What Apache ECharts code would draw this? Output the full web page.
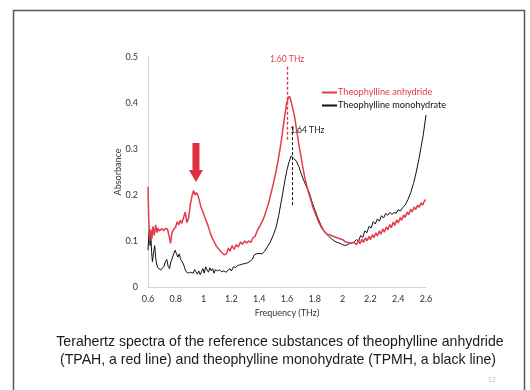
<!DOCTYPE html>
<html><head><meta charset="utf-8">
<script src="https://cdn.jsdelivr.net/npm/echarts@6/dist/echarts.min.js"></script>
<style>html,body{margin:0;padding:0;background:#fff}#c{width:530px;height:390px}</style>
</head><body><div id="c"></div>
<script>
const xTicks = ['0.6','0.8','1','1.2','1.4','1.6','1.8','2','2.2','2.4','2.6'];
const yTicks = ['0','0.1','0.2','0.3','0.4','0.5'];
const seriesNames = ['Theophylline anhydride','Theophylline monohydrate'];
const anhydrideX = [0.600,0.605,0.612,0.620,0.628,0.636,0.645,0.655,0.664,0.672,0.680,0.690,0.700,0.712,0.725,0.740,0.752,0.762,0.772,0.785,0.798,0.810,0.820,0.832,0.842,0.855,0.868,0.880,0.892,0.905,0.918,0.928,0.938,0.948,0.958,0.968,0.980,0.995,1.010,1.030,1.050,1.070,1.090,1.110,1.130,1.150,1.165,1.178,1.190,1.205,1.220,1.235,1.250,1.265,1.280,1.295,1.310,1.325,1.340,1.355,1.370,1.390,1.410,1.430,1.450,1.470,1.490,1.510,1.530,1.550,1.565,1.580,1.595,1.608,1.618,1.628,1.640,1.655,1.670,1.685,1.700,1.715,1.730,1.750,1.770,1.790,1.810,1.830,1.850,1.870,1.890,1.920,1.950,1.980,2.000,2.020,2.040,2.060,2.080,2.100,2.115,2.125,2.140,2.150,2.165,2.175,2.190,2.200,2.215,2.225,2.240,2.250,2.265,2.275,2.290,2.300,2.315,2.325,2.340,2.350,2.365,2.375,2.390,2.400,2.415,2.425,2.440,2.450,2.465,2.475,2.490,2.500,2.515,2.525,2.540,2.550,2.565,2.575,2.590,2.600];
const anhydrideY = [0.218,0.150,0.100,0.125,0.105,0.132,0.112,0.135,0.118,0.128,0.122,0.125,0.127,0.122,0.127,0.126,0.110,0.095,0.118,0.125,0.130,0.142,0.135,0.145,0.138,0.150,0.163,0.140,0.150,0.180,0.200,0.210,0.200,0.205,0.200,0.190,0.175,0.163,0.150,0.135,0.115,0.102,0.090,0.082,0.075,0.070,0.072,0.085,0.078,0.090,0.082,0.092,0.087,0.098,0.093,0.100,0.096,0.100,0.097,0.107,0.110,0.125,0.135,0.148,0.165,0.185,0.210,0.235,0.265,0.300,0.330,0.365,0.395,0.410,0.415,0.405,0.390,0.370,0.340,0.310,0.285,0.258,0.235,0.210,0.190,0.170,0.155,0.140,0.128,0.120,0.115,0.112,0.108,0.105,0.103,0.098,0.097,0.095,0.097,0.092,0.102,0.094,0.104,0.097,0.107,0.100,0.110,0.103,0.114,0.107,0.118,0.111,0.122,0.115,0.126,0.119,0.131,0.124,0.136,0.129,0.141,0.134,0.146,0.139,0.151,0.145,0.157,0.151,0.163,0.157,0.169,0.163,0.174,0.168,0.178,0.173,0.183,0.178,0.188,0.190];
const monohydrateX = [0.600,0.605,0.610,0.615,0.620,0.626,0.632,0.640,0.648,0.655,0.662,0.670,0.680,0.692,0.705,0.715,0.725,0.735,0.745,0.755,0.765,0.775,0.785,0.795,0.805,0.815,0.825,0.835,0.845,0.855,0.865,0.875,0.890,0.905,0.915,0.925,0.935,0.945,0.955,0.965,0.975,0.985,0.995,1.005,1.015,1.025,1.035,1.045,1.055,1.065,1.075,1.085,1.100,1.115,1.130,1.145,1.160,1.175,1.190,1.200,1.215,1.230,1.245,1.260,1.280,1.300,1.320,1.335,1.350,1.365,1.380,1.400,1.420,1.440,1.460,1.480,1.500,1.520,1.540,1.555,1.570,1.585,1.600,1.615,1.630,1.640,1.655,1.670,1.685,1.700,1.720,1.740,1.760,1.780,1.800,1.820,1.840,1.860,1.880,1.900,1.920,1.940,1.960,1.980,2.000,2.020,2.040,2.060,2.080,2.100,2.115,2.130,2.145,2.160,2.175,2.190,2.205,2.220,2.235,2.250,2.265,2.280,2.295,2.310,2.325,2.340,2.355,2.370,2.385,2.400,2.415,2.430,2.450,2.470,2.490,2.510,2.530,2.550,2.565,2.580,2.590,2.600];
const monohydrateY = [0.080,0.110,0.125,0.090,0.115,0.075,0.055,0.075,0.090,0.065,0.050,0.042,0.038,0.037,0.038,0.045,0.055,0.060,0.045,0.040,0.055,0.063,0.072,0.080,0.072,0.065,0.072,0.060,0.062,0.050,0.040,0.033,0.030,0.032,0.036,0.030,0.038,0.033,0.028,0.035,0.027,0.033,0.040,0.030,0.044,0.037,0.032,0.042,0.035,0.040,0.030,0.038,0.035,0.037,0.033,0.035,0.032,0.036,0.040,0.035,0.044,0.042,0.047,0.048,0.050,0.051,0.053,0.056,0.060,0.070,0.072,0.073,0.072,0.078,0.088,0.098,0.112,0.128,0.155,0.180,0.205,0.232,0.255,0.272,0.285,0.287,0.278,0.272,0.262,0.248,0.232,0.218,0.205,0.185,0.168,0.152,0.137,0.125,0.117,0.110,0.105,0.100,0.097,0.095,0.092,0.090,0.093,0.095,0.097,0.103,0.100,0.112,0.108,0.122,0.118,0.132,0.128,0.142,0.137,0.148,0.143,0.155,0.150,0.160,0.156,0.162,0.158,0.162,0.160,0.168,0.165,0.172,0.178,0.190,0.205,0.225,0.250,0.280,0.305,0.330,0.352,0.374];
const peakRed = {x:1.60, y0:0.32, y1:0.483, label:'1.60 THz'};
const peakBlack = {x:1.637, y0:0.178, y1:0.352, label:'1.64 THz'};
const arrowAt = {x:0.945, yTop:0.313, yTip:0.228};
const captionLines = ['Terahertz spectra of the reference substances of theophylline anhydride','(TPAH, a red line) and theophylline monohydrate (TPMH, a black line)'];
const pageNumber = '12';

const RED = '#e23b4e', BLACK = '#111';
const FONT = 'Lato';
const zip = (xs, ys) => xs.map((x, i) => [x, ys[i]]);

const chart = echarts.init(document.getElementById('c'), null, {renderer:'canvas'});
const option = {
  animation:false,
  backgroundColor:'#fff',
  grid:{left:148, right:104, top:57, bottom:103, containLabel:false},
  xAxis:{type:'value', min:0.6, max:2.6, interval:0.2,
    name:'Frequency (THz)', nameLocation:'middle', nameGap:18,
    nameTextStyle:{fontFamily:FONT, fontSize:9, color:'#333'},
    axisLine:{show:true, onZero:false, lineStyle:{color:'#d4d4d4', width:1}},
    axisTick:{show:false}, splitLine:{show:false},
    axisLabel:{fontFamily:FONT, fontSize:9, color:'#333', margin:8,
      formatter:(v)=>{ const i=Math.round((v-0.6)/0.2); return xTicks[i]!==undefined?xTicks[i]:''; }}},
  yAxis:{type:'value', min:0, max:0.5, interval:0.1,
    name:'Absorbance', nameLocation:'middle', nameGap:25, nameMoveOverlap:false,
    nameTextStyle:{fontFamily:FONT, fontSize:9, color:'#333'},
    axisLine:{show:true, lineStyle:{color:'#d4d4d4', width:1}},
    axisTick:{show:false}, splitLine:{show:false},
    axisLabel:{fontFamily:FONT, fontSize:9, color:'#333', margin:10,
      formatter:(v)=>{ const i=Math.round(v/0.1); return yTicks[i]!==undefined?yTicks[i]:''; }}},
  legend:{orient:'vertical', left:317, top:83, itemGap:4, itemWidth:15, itemHeight:2, icon:'rect',
    textStyle:{fontFamily:FONT, fontSize:9.2, padding:[0,0,0,-4]},
    data:[{name:seriesNames[0], textStyle:{color:RED}},{name:seriesNames[1], textStyle:{color:'#111'}}]},
  series:[
    {name:seriesNames[0], type:'line', data:zip(anhydrideX, anhydrideY), showSymbol:false, symbol:'none',
      lineStyle:{color:RED, width:1.5}, itemStyle:{color:RED}, z:3,
      markLine:{silent:true, symbol:'none', lineStyle:{color:RED, type:[3,2], width:1.4}, label:{show:false},
        data:[[{coord:[peakRed.x, peakRed.y0]},{coord:[peakRed.x, peakRed.y1]}]]},
      markPoint:{symbol:'circle', symbolSize:0, data:[{coord:[peakRed.x, peakRed.y1], value:peakRed.label,
        label:{show:true, position:'top', distance:1, formatter:peakRed.label, fontFamily:FONT, fontSize:8.5, color:RED}}]}},
    {name:seriesNames[1], type:'line', data:zip(monohydrateX, monohydrateY), showSymbol:false, symbol:'none',
      lineStyle:{color:BLACK, width:1}, itemStyle:{color:BLACK}, z:2,
      markLine:{silent:true, symbol:'none', lineStyle:{color:BLACK, type:[3,2], width:1}, label:{show:false},
        data:[[{coord:[peakBlack.x, peakBlack.y0]},{coord:[peakBlack.x, peakBlack.y1]}]]},
      markPoint:{symbol:'circle', symbolSize:0, data:[{coord:[peakBlack.x, 0.34], value:peakBlack.label,
        label:{show:true, position:'right', distance:-2, formatter:peakBlack.label, fontFamily:FONT, fontSize:8.5, color:'#222'}}]}}
  ]
};
chart.setOption(option);

const arrowTop = chart.convertToPixel({gridIndex:0}, [arrowAt.x, arrowAt.yTop]);
const arrowTip = chart.convertToPixel({gridIndex:0}, [arrowAt.x, arrowAt.yTip]);
const cx = arrowTop[0], sw = 3.5, hw = 7, hh = 12;
chart.setOption({graphic:[
  {type:'rect', left:11, top:8, shape:{x:0,y:0,width:511,height:400}, style:{fill:'none', stroke:'#5a5a5a', lineWidth:1.5}, silent:true},
  {type:'polygon', shape:{points:[[cx-sw,arrowTop[1]],[cx+sw,arrowTop[1]],[cx+sw,arrowTip[1]-hh],[cx+hw,arrowTip[1]-hh],[cx,arrowTip[1]],[cx-hw,arrowTip[1]-hh],[cx-sw,arrowTip[1]-hh]]},
    style:{fill:'#e0303f'}, silent:true},
  {type:'text', x:280, y:342, style:{text:captionLines[0], font:'14.1px "Liberation Sans", Arial, sans-serif', fill:'#1a1a1a', textAlign:'center', textVerticalAlign:'middle'}},
  {type:'text', x:278, y:360, style:{text:captionLines[1], font:'14.1px "Liberation Sans", Arial, sans-serif', fill:'#1a1a1a', textAlign:'center', textVerticalAlign:'middle'}},
  {type:'text', x:492, y:380, style:{text:pageNumber, font:'7px "Liberation Sans", Arial, sans-serif', fill:'#bbbbbb', textAlign:'center', textVerticalAlign:'middle'}}
]});
</script></body></html>
